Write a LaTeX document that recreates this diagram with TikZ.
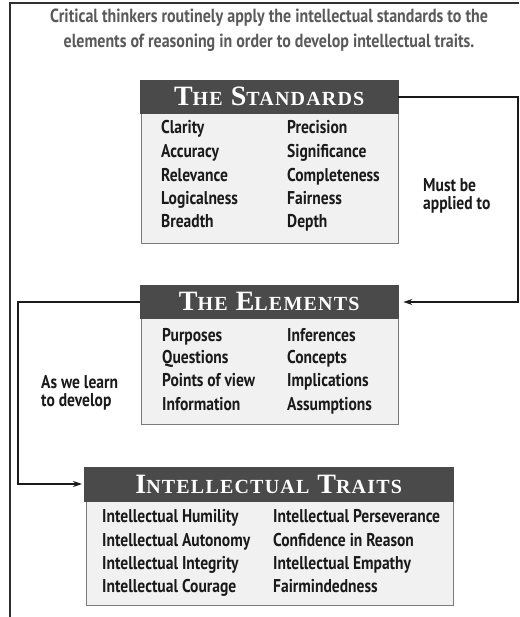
\documentclass[tikz,border=0pt]{standalone}
\usepackage{fontspec}
\usetikzlibrary{arrows.meta}
\newfontfamily\bodyf{PT Sans}[FakeStretch=0.84]
\newfontfamily\hdrf{Liberation Serif}[LetterSpace=6]
\newcommand{\HdBig}[1]{{\fontsize{28}{28}\selectfont #1}}
\newcommand{\HdSm}[1]{{\fontsize{20}{20}\selectfont #1}}
\newcommand{\HdGap}{\hspace{8pt}}
\definecolor{hdr}{HTML}{4A4A4A}
\definecolor{bodyfill}{HTML}{F1F1F1}
\definecolor{bodyline}{HTML}{7A7A7A}
\definecolor{ink}{HTML}{1A1A1A}
\definecolor{topink}{HTML}{5A5A5A}
\definecolor{frameink}{HTML}{303030}
\begin{document}
\begin{tikzpicture}[x=1pt,y=-1pt,
  hdrbox/.style={fill=hdr, draw=hdr, anchor=north west, inner sep=0pt, text=white,
    font=\hdrf\bfseries},
  bodybox/.style={fill=bodyfill, draw=bodyline, line width=1pt},
  item/.style={anchor=base west, inner sep=0pt, text=ink, font=\bodyf\bfseries\fontsize{18.5}{18.5}\selectfont},
  note/.style={anchor=west, inner sep=0pt, text=ink, align=left,
    font=\bodyf\bfseries\fontsize{18.5}{18}\selectfont},
  conn/.style={draw=ink, line width=1.4pt},
  tip/.style={-{Stealth[length=9pt,width=6pt]}}
]
\useasboundingbox (0,0) rectangle (519,617);
\fill[white] (0,0) rectangle (519,617);
% frame
\draw[frameink, line width=2pt] (519,3) -- (10,3) -- (10,617);
% top text
\node[inner sep=0pt, text=topink, align=center, font=\bodyf\bfseries\fontsize{19}{25}\selectfont] (intro) at (269,30)
  {Critical thinkers routinely apply the intellectual standards to the\\elements of reasoning in order to develop intellectual traits.};

% Standards
\draw[bodybox] (141,112) rectangle (398,243);
\node[hdrbox, minimum width=258pt, minimum height=33pt] (stdH) at (140,80) {\HdBig{T}\HdSm{HE}\HdGap\HdBig{S}\HdSm{TANDARDS}};
\node[item] (s1) at (161,134) {Clarity};
\node[item] (s2) at (161,158) {Accuracy};
\node[item] (s3) at (161,182) {Relevance};
\node[item] (s4) at (161,205) {Logicalness};
\node[item] (s5) at (161,228) {Breadth};
\node[item] (s6) at (287,134) {Precision};
\node[item] (s7) at (287,158) {Significance};
\node[item] (s8) at (287,182) {Completeness};
\node[item] (s9) at (287,205) {Fairness};
\node[item] (s10) at (287,228) {Depth};
\node[note] (must) at (423,196) {Must be\\applied to};

% Elements
\draw[bodybox] (141,318) rectangle (398,424);
\node[hdrbox, minimum width=258pt, minimum height=33pt] (elH) at (140,285) {\HdBig{T}\HdSm{HE}\HdGap\HdBig{E}\HdSm{LEMENTS}};
\node[item] (e1) at (162,341) {Purposes};
\node[item] (e2) at (162,363) {Questions};
\node[item] (e3) at (162,386) {Points of view};
\node[item] (e4) at (162,410) {Information};
\node[item] (e5) at (287,341) {Inferences};
\node[item] (e6) at (287,363) {Concepts};
\node[item] (e7) at (287,386) {Implications};
\node[item] (e8) at (287,410) {Assumptions};
\node[note] (learn) at (41,393) {As we learn\\to develop};

% Traits
\draw[bodybox] (86,500) rectangle (453,605);
\node[hdrbox, minimum width=369pt, minimum height=34pt] (trH) at (84,467) {\HdBig{I}\HdSm{NTELLECTUAL}\HdGap\HdBig{T}\HdSm{RAITS}};
\node[item] (t1) at (102,522) {Intellectual Humility};
\node[item] (t2) at (102,546) {Intellectual Autonomy};
\node[item] (t3) at (102,569) {Intellectual Integrity};
\node[item] (t4) at (102,592) {Intellectual Courage};
\node[item] (t5) at (273,522) {Intellectual Perseverance};
\node[item] (t6) at (273,546) {Confidence in Reason};
\node[item] (t7) at (273,569) {Intellectual Empathy};
\node[item] (t8) at (273,592) {Fairmindedness};

% connectors
\coordinate (r1) at (518,97);
\coordinate (r2) at (518,302);
\coordinate (l1) at (18,302);
\coordinate (l2) at (18,484);
\draw[conn, tip, shorten >=5pt] (stdH.east |- r1) -- (r1) -- (r2) -- (r2 -| elH.east);
\draw[conn, tip, shorten >=2pt] (elH.west |- l1) -- (l1) -- (l2) -- (l2 -| trH.west);
\end{tikzpicture}
\end{document}
